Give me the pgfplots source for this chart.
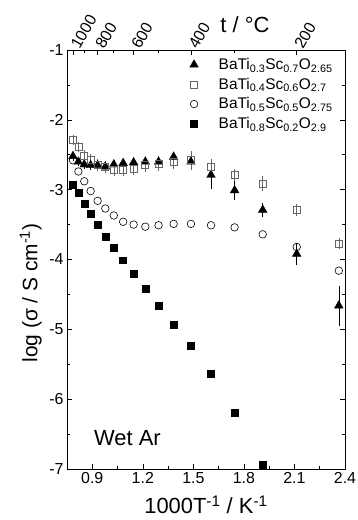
\documentclass[border=0pt]{standalone}
\usepackage{fontspec}
\setmainfont{Liberation Sans}
\usepackage{pgfplots}
\pgfplotsset{compat=1.18}
\usetikzlibrary{calc}
\pgfplotsset{mylegimg/.style={legend image code/.code={%
  \path[draw=none,fill=none] (0cm,0cm) (1.1cm,0cm);
  \draw[##1] plot[only marks] coordinates {(0.3cm,0cm)};}}}
\begin{document}
\begin{tikzpicture}
\begin{axis}[name=ax, scale only axis, width=278bp, height=419bp,
 xmin=0.75, xmax=2.4, ymin=-7, ymax=-1,
 xtick={0.9,1.2,1.5,1.8,2.1,2.4}, xticklabels={0.9,1.2,1.5,1.8,2.1,2.4},
 minor x tick num=1,
 ytick={-7,-6,-5,-4,-3,-2,-1}, yticklabels={-7,-6,-5,-4,-3,-2,-1}, minor y tick num=1,
 xtick pos=bottom, ytick pos=both, tick align=inside,
 major tick length=5bp, minor tick length=3bp,
 tick style={black, line width=0.6bp},
 axis line style={line width=0.8bp},
 ticklabel style={font=\fontsize{16}{18}\selectfont},
 xlabel={1000T\textsuperscript{-1} / K\textsuperscript{-1}},
 ylabel={log (σ / S cm\textsuperscript{-1})},
 label style={font=\fontsize{22}{26}\selectfont},
 xlabel style={at={(axis description cs:0.5,-0.085)}, anchor=center},
 ylabel style={at={(axis description cs:-0.13,0.42)}, anchor=center, font=\fontsize{21}{24}\selectfont},
 legend style={at={(0.415,0.99)}, anchor=north west, draw=none, fill=none,
   font=\fontsize{15.5}{17}\selectfont, row sep=3bp},
 legend cell align=left,
 error bars/error bar style={line width=0.5bp},
 error bars/error mark options={mark size=2.5bp, line width=0.5bp},
]
% BaTi0.3Sc0.7O2.65
\addplot[only marks, mylegimg, mark=triangle*, mark size=5, black, mark options={fill=black},
  error bars/.cd, y dir=both, y explicit] coordinates {
 (0.78555,-2.52) +- (0,0.03)
 (0.81755,-2.60) +- (0,0.03)
 (0.85241,-2.64) +- (0,0.03)
 (0.89033,-2.65) +- (0,0.03)
 (0.93183,-2.65) +- (0,0.03)
 (0.97737,-2.67) +- (0,0.03)
 (1.02773,-2.64) +- (0,0.03)
 (1.08326,-2.62) +- (0,0.03)
 (1.14527,-2.61) +- (0,0.03)
 (1.21484,-2.60) +- (0,0.03)
 (1.29341,-2.60) +- (0,0.03)
 (1.38281,-2.53) +- (0,0.04)
 (1.48556,-2.60) +- (0,0.05)
 (1.60475,-2.79) +- (0,0.17)
 (1.74475,-3.01) +- (0,0.10)
 (1.91151,-3.29) +- (0,0.06)
 (2.11349,-3.92) +- (0,0.12)
 (2.36323,-4.66) +- (0,0.25)
};
\addlegendentry{BaTi\textsubscript{0.3}Sc\textsubscript{0.7}O\textsubscript{2.65}}
% BaTi0.4Sc0.6O2.7
\addplot[only marks, mylegimg, mark=square, mark size=3.5, black!60, mark options={line width=0.7bp},
  error bars/.cd, y dir=both, y explicit] coordinates {
 (0.78555,-2.29) +- (0,0.04)
 (0.81755,-2.39) +- (0,0.04)
 (0.85241,-2.52) +- (0,0.05)
 (0.89033,-2.58) +- (0,0.05)
 (0.93183,-2.65) +- (0,0.05)
 (0.97737,-2.68) +- (0,0.05)
 (1.02773,-2.71) +- (0,0.06)
 (1.08326,-2.71) +- (0,0.06)
 (1.14527,-2.70) +- (0,0.06)
 (1.21484,-2.65) +- (0,0.06)
 (1.29341,-2.63) +- (0,0.07)
 (1.38281,-2.60) +- (0,0.07)
 (1.48556,-2.58) +- (0,0.10)
 (1.60475,-2.67) +- (0,0.07)
 (1.74475,-2.79) +- (0,0.05)
 (1.91151,-2.91) +- (0,0.07)
 (2.11349,-3.29) +- (0,0.05)
 (2.36323,-3.77) +- (0,0.04)
};
\addlegendentry{BaTi\textsubscript{0.4}Sc\textsubscript{0.6}O\textsubscript{2.7}}
% BaTi0.5Sc0.5O2.75
\addplot[only marks, mylegimg, mark=o, mark size=3.8, black, mark options={line width=0.6bp}] coordinates {
 (0.78555,-2.58)
 (0.81755,-2.74)
 (0.85241,-2.88)
 (0.89033,-3.02)
 (0.93183,-3.16)
 (0.97737,-3.27)
 (1.02773,-3.37)
 (1.08326,-3.46)
 (1.14527,-3.50)
 (1.21484,-3.53)
 (1.29341,-3.51)
 (1.38281,-3.49)
 (1.48556,-3.49)
 (1.60475,-3.51)
 (1.74475,-3.54)
 (1.91151,-3.64)
 (2.11349,-3.82)
 (2.36323,-4.16)
};
\addlegendentry{BaTi\textsubscript{0.5}Sc\textsubscript{0.5}O\textsubscript{2.75}}
% BaTi0.8Sc0.2O2.9
\addplot[only marks, mylegimg, mark=square*, mark size=3.5, black] coordinates {
 (0.78555,-2.93)
 (0.81755,-3.05)
 (0.85241,-3.20)
 (0.89033,-3.34)
 (0.93183,-3.50)
 (0.97737,-3.67)
 (1.02773,-3.83)
 (1.08326,-4.01)
 (1.14527,-4.21)
 (1.21484,-4.42)
 (1.29341,-4.66)
 (1.38281,-4.93)
 (1.48556,-5.23)
 (1.60475,-5.63)
 (1.74475,-6.20)
 (1.91151,-6.94)
};
\addlegendentry{BaTi\textsubscript{0.8}Sc\textsubscript{0.2}O\textsubscript{2.9}}
\node[anchor=west, font=\fontsize{22}{24}\selectfont] at (axis cs:0.89,-6.55) {Wet Ar};
\end{axis}
\begin{axis}[scale only axis, width=278bp, height=419bp, at={(ax.south west)}, anchor=south west,
 xmin=0.75, xmax=2.4, ymin=-7, ymax=-1, clip=false,
 axis x line*=top, axis y line=none,
 xtick={0.78555,0.93183,1.14527,1.48556,2.11349}, xticklabels={1000,800,600,400,200},
 minor xtick={0.85241,1.02773,1.29341,1.74475},
 tick align=inside, major tick length=5bp, minor tick length=3bp,
 tick style={black, line width=0.6bp},
 axis line style={line width=0.8bp},
 xticklabel style={font=\fontsize{16}{18}\selectfont, rotate=60, anchor=west},
]
\addplot[draw=none] coordinates {(1,-3)};
\node[font=\fontsize{22}{26}\selectfont, anchor=center] at (axis description cs:0.64,1.06) {t / °C};
\end{axis}
\pgfresetboundingbox
\path[use as bounding box] ($(ax.south west)+(-67bp,-51bp)$) rectangle ($(ax.north east)+(12bp,50bp)$);
\end{tikzpicture}
\end{document}
